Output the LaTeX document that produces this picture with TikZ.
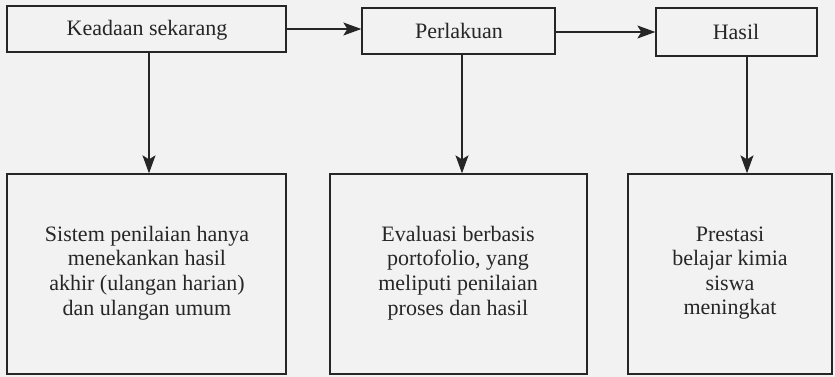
\documentclass[tikz,border=0pt]{standalone}
\usepackage{fontspec}
\setmainfont{Liberation Serif}
\usetikzlibrary{arrows.meta}
\definecolor{ink}{HTML}{262626}
\definecolor{paper}{HTML}{F2F2F2}
\tikzset{
  pbox/.style={draw=ink, line width=1.3pt, inner sep=0pt},
  lbl/.style={text=ink, font=\fontsize{22}{24.6}\selectfont, align=center},
  arr/.style={draw=ink, line width=1.3pt, -{Stealth[length=18pt,width=13pt,inset=4pt]}}
}
\begin{document}
\begin{tikzpicture}[x=1pt,y=-1pt]
\fill[paper] (0,0) rectangle (835,377);
\useasboundingbox (0,0) rectangle (835,377);
% top boxes
\node[pbox, minimum width=279pt, minimum height=46pt] (k) at (146.5,29) {};
\node[lbl] at (147,30) {Keadaan sekarang};
\node[pbox, minimum width=193pt, minimum height=46pt] (p) at (458.5,31) {};
\node[lbl] at (459,31) {Perlakuan};
\node[pbox, minimum width=161pt, minimum height=48pt] (h) at (736.5,32) {};
\node[lbl] at (736,32) {Hasil};
% bottom boxes
\node[pbox, minimum width=279pt, minimum height=200pt] (a) at (146.5,274) {};
\node[lbl] at (147,273) {Sistem penilaian hanya\\menekankan hasil\\akhir (ulangan harian)\\dan ulangan umum};
\node[pbox, minimum width=257pt, minimum height=200pt] (b) at (458.5,274) {};
\node[lbl] at (458,273) {Evaluasi berbasis\\portofolio, yang\\meliputi penilaian\\proses dan hasil};
\node[pbox, minimum width=204pt, minimum height=200pt] (c) at (730,274) {};
\node[lbl] at (730,273) {Prestasi\\belajar kimia\\siswa\\meningkat};
% arrows
\draw[arr] (k.east) -- (k.east -| p.west);
\draw[arr] (p.east |- h.west) -- (h.west);
\draw[arr] (k.south -| 149,0) -- (a.north -| 149,0);
\draw[arr] (p.south -| 462,0) -- (b.north -| 462,0);
\draw[arr] (h.south -| 747,0) -- (c.north -| 747,0);
\end{tikzpicture}
\end{document}
